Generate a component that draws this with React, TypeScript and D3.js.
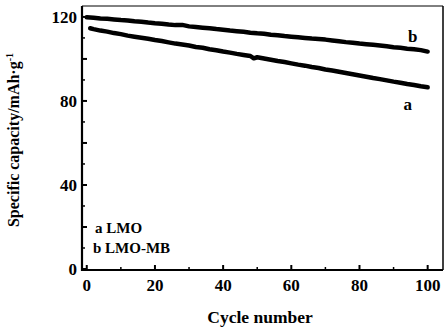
import React from "react";
import * as d3 from "d3";

// Specific capacity (mAh/g) vs cycle number for two cathode samples
const cyclesA = [1, 2, 4, 6, 8, 10, 12, 14, 16, 18, 20, 22, 24, 26, 28, 30, 32, 34, 36, 38, 40, 42, 44, 46, 48, 49, 50, 52, 54, 56, 58, 60, 62, 64, 66, 68, 70, 72, 74, 76, 78, 80, 82, 84, 86, 88, 90, 92, 94, 96, 98, 100];
const capacityA = [114.6, 114.2, 113.5, 113.0, 112.3, 111.8, 111.1, 110.6, 110.1, 109.6, 109.0, 108.5, 107.9, 107.3, 106.9, 106.4, 105.7, 105.3, 104.6, 104.1, 103.5, 103.0, 102.4, 101.9, 101.4, 100.3, 100.8, 100.2, 99.6, 99.0, 98.5, 97.9, 97.3, 96.8, 96.2, 95.7, 95.0, 94.5, 93.9, 93.3, 92.7, 92.1, 91.5, 90.9, 90.4, 89.8, 89.2, 88.7, 88.1, 87.6, 87.0, 86.5];

const cyclesB = [0, 2, 4, 6, 8, 10, 12, 14, 16, 18, 20, 22, 24, 26, 28, 30, 32, 34, 36, 38, 40, 42, 44, 46, 48, 50, 52, 54, 56, 58, 60, 62, 64, 66, 68, 70, 72, 74, 76, 78, 80, 82, 84, 86, 88, 90, 92, 94, 96, 98, 100];
const capacityB = [119.8, 119.6, 119.3, 119.1, 118.8, 118.5, 118.3, 117.9, 117.7, 117.3, 117.0, 116.8, 116.4, 116.1, 116.2, 115.5, 115.2, 114.9, 114.6, 114.2, 113.9, 113.5, 113.2, 112.9, 112.5, 112.2, 112.0, 111.5, 111.3, 110.9, 110.6, 110.3, 110.0, 109.7, 109.5, 109.2, 108.8, 108.4, 108.0, 107.7, 107.3, 107.0, 106.7, 106.4, 106.0, 105.6, 105.3, 104.9, 104.6, 104.2, 103.5];

const xMajorTicks = [0, 20, 40, 60, 80, 100];
const xMinorTicks = [10, 30, 50, 70, 90];
const yMajorTicks = [0, 20, 40, 60, 80, 100, 120];
const yMinorTicks = [10, 30, 50, 70, 90, 110];
const yLabelTicks = [0, 40, 80, 120];

const seriesLabels = ["a", "b"];
const legendLines = ["a LMO", "b LMO-MB"];

const W = 446;
const H = 333;
const plot = { left: 82, right: 443, top: 6, bottom: 270 };
const font = "'Liberation Serif', 'Times New Roman', serif";

export default function App() {
  const x = d3.scaleLinear().domain([-1.4, 104.5]).range([plot.left, plot.right]);
  const y = d3.scaleLinear().domain([0, 125.2]).range([269, plot.top]);

  const line = d3
    .line<[number, number]>()
    .x((d) => x(d[0]))
    .y((d) => y(d[1]))
    .curve(d3.curveLinear);

  const ptsA: [number, number][] = cyclesA.map((c, i) => [c, capacityA[i]]);
  const ptsB: [number, number][] = cyclesB.map((c, i) => [c, capacityB[i]]);

  const lastA = ptsA[ptsA.length - 1];
  const lastB = ptsB[ptsB.length - 1];

  return (
    <svg
      width={W}
      height={H}
      style={{ position: "absolute", left: 0, top: 0, background: "#fff" }}
      fontFamily={font}
    >
      <rect x={0} y={0} width={W} height={H} fill="#fff" />

      {/* frame */}
      <line x1={plot.left} x2={plot.right} y1={plot.top} y2={plot.top} stroke="#000" strokeWidth={1} />
      <line x1={plot.right} x2={plot.right} y1={plot.top} y2={plot.bottom} stroke="#000" strokeWidth={1.5} />
      <line x1={plot.left} x2={plot.left} y1={plot.top} y2={plot.bottom + 1} stroke="#000" strokeWidth={2.2} />
      <line x1={plot.left} x2={plot.right} y1={plot.bottom} y2={plot.bottom} stroke="#000" strokeWidth={2.2} />

      {/* x ticks (inward) */}
      {xMajorTicks.map((t) => (
        <line key={"xM" + t} x1={x(t)} x2={x(t)} y1={plot.bottom} y2={plot.bottom - 5} stroke="#000" strokeWidth={2} />
      ))}
      {xMinorTicks.map((t) => (
        <line key={"xm" + t} x1={x(t)} x2={x(t)} y1={plot.bottom} y2={plot.bottom - 3} stroke="#000" strokeWidth={1.5} />
      ))}
      {xMajorTicks.map((t) => (
        <text key={"xl" + t} x={x(t)} y={291} textAnchor="middle" fontSize={17} fontWeight="bold">
          {t}
        </text>
      ))}

      {/* y ticks (inward) */}
      {yMajorTicks.map((t) => (
        <line key={"yM" + t} x1={plot.left} x2={plot.left + 5} y1={y(t)} y2={y(t)} stroke="#000" strokeWidth={2} />
      ))}
      {yMinorTicks.map((t) => (
        <line key={"ym" + t} x1={plot.left} x2={plot.left + 3} y1={y(t)} y2={y(t)} stroke="#000" strokeWidth={1.5} />
      ))}
      {yLabelTicks.map((t) => (
        <text key={"yl" + t} x={77} y={y(t) + 6} textAnchor="end" fontSize={17} fontWeight="bold">
          {t}
        </text>
      ))}

      {/* axis titles */}
      <text x={260} y={323} textAnchor="middle" fontSize={17.5} fontWeight="bold">
        Cycle number
      </text>
      <text
        transform={`translate(19,140) rotate(-90)`}
        textAnchor="middle"
        fontSize={16}
        fontWeight="bold"
      >
        Specific capacity/mAh·g
        <tspan dy={-6} fontSize={10}>-1</tspan>
      </text>

      {/* data */}
      <path d={line(ptsA) ?? ""} fill="none" stroke="#000" strokeWidth={4.5} strokeLinecap="round" strokeLinejoin="round" />
      <path d={line(ptsB) ?? ""} fill="none" stroke="#000" strokeWidth={4.5} strokeLinecap="round" strokeLinejoin="round" />

      {/* curve labels */}
      <text x={x(lastA[0]) - 20} y={y(lastA[1]) + 23} textAnchor="middle" fontSize={17} fontWeight="bold">
        {seriesLabels[0]}
      </text>
      <text x={x(lastB[0]) - 15} y={y(lastB[1]) - 10} textAnchor="middle" fontSize={17} fontWeight="bold">
        {seriesLabels[1]}
      </text>

      {/* legend */}
      <text x={95} y={233} fontSize={15} fontWeight="bold">
        {legendLines[0]}
      </text>
      <text x={93} y={253} fontSize={15} fontWeight="bold">
        {legendLines[1]}
      </text>
    </svg>
  );
}
